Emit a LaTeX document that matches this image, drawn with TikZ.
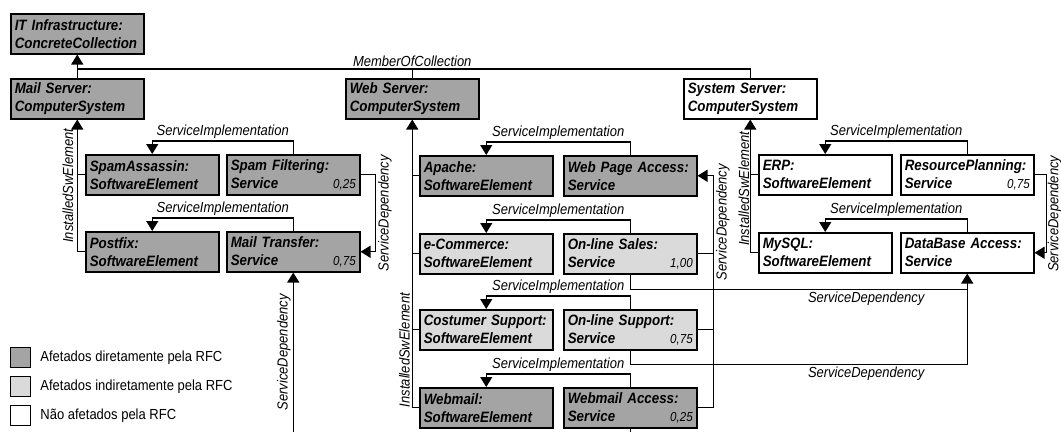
\documentclass[tikz,border=0pt]{standalone}
\usepackage{fontspec}
\setmainfont{Liberation Sans}[FakeStretch=0.89]
\usetikzlibrary{arrows.meta}
\definecolor{cinzaesc}{HTML}{A4A4A4}
\definecolor{cinzacla}{HTML}{DADADA}
\tikzset{
  caixa/.style={draw, line width=1.5pt, anchor=north west, text width=125pt, inner xsep=4pt, inner ysep=0pt,
    minimum height=40pt, align=left, font=\fontsize{15}{18}\selectfont\bfseries\itshape},
  direto/.style={caixa, fill=cinzaesc},
  indireto/.style={caixa, fill=cinzacla},
  naoafet/.style={caixa, fill=white},
  rot/.style={font=\fontsize{14.6}{16}\selectfont\itshape},
  liga/.style={line width=1.2pt},
  quadro/.style={draw, line width=1.2pt, minimum size=20pt, anchor=north west, inner sep=0pt},
  legenda/.style={anchor=west, font=\fontsize{14.6}{16}\selectfont, inner sep=0pt}
}
\newcommand{\peso}[1]{\hfill{\mdseries\fontsize{13}{18}\selectfont #1}}
\begin{document}
\begin{tikzpicture}[x=1pt, y=-1pt, >={Triangle[width=12pt,length=10pt]}]
  \useasboundingbox (0,0) rectangle (1061,432);
  \coordinate (bot) at (0,432);
  % colecao e servidores
  \node[direto] (itinfra) at (10,13) {IT Infrastructure:\\ConcreteCollection};
  \node[direto] (mailsrv) at (10,78) {Mail Server:\\ComputerSystem};
  \node[direto] (websrv) at (345,78) {Web Server:\\ComputerSystem};
  \node[naoafet] (syssrv) at (683,78) {System Server:\\ComputerSystem};
  % mail
  \node[direto] (spamassassin) at (85,154) {SpamAssassin:\\SoftwareElement};
  \node[direto] (spamfilter) at (226,154) {Spam Filtering:\\Service\peso{0,25}};
  \node[direto] (postfix) at (85,231) {Postfix:\\SoftwareElement};
  \node[direto] (mailtransfer) at (226,231) {Mail Transfer:\\Service\peso{0,75}};
  % web
  \node[direto] (apache) at (419,155) {Apache:\\SoftwareElement};
  \node[direto] (webpage) at (563,155) {Web Page Access:\\Service};
  \node[indireto] (ecommerce) at (419,233) {e-Commerce:\\SoftwareElement};
  \node[indireto] (sales) at (563,233) {On-line Sales:\\Service\peso{1,00}};
  \node[indireto] (custsupport) at (419,309) {Costumer Support:\\SoftwareElement};
  \node[indireto] (support) at (563,309) {On-line Support:\\Service\peso{0,75}};
  \node[direto] (webmail) at (419,387) {Webmail:\\SoftwareElement};
  \node[direto] (webmailacc) at (563,387) {Webmail Access:\\Service\peso{0,25}};
  % system
  \node[naoafet] (erp) at (758,154) {ERP:\\SoftwareElement};
  \node[naoafet] (resplan) at (900,154) {ResourcePlanning:\\Service\peso{0,75}};
  \node[naoafet] (mysql) at (758,232) {MySQL:\\SoftwareElement};
  \node[naoafet] (dbaccess) at (900,232) {DataBase Access:\\Service};

  % MemberOfCollection
  \coordinate (moc) at (77,69);
  \draw[liga,->] (mailsrv.north) -- (itinfra.south);
  \draw[liga] (moc) -| (websrv.north);
  \draw[liga] (moc) -| (syssrv.north);
  \node[rot, above, inner sep=2pt] at (moc -| websrv.north) {MemberOfCollection};

  % mail server
  \draw[liga,->] (postfix.west) -| node[rot, rotate=90, anchor=south, pos=0.75] {InstalledSwElement} (mailsrv.south);
  \draw[liga] (spamassassin.west) -- (spamassassin.west -| mailsrv.south);
  \draw[liga,->] (spamfilter.north) -- ++(0,-13) -| node[rot, above, inner sep=2pt, pos=0.25] {ServiceImplementation} (spamassassin.north);
  \draw[liga,->] (mailtransfer.north) -- ++(0,-13) -| node[rot, above, inner sep=2pt, pos=0.25] {ServiceImplementation} (postfix.north);
  \draw[liga,->] (spamfilter.east) -- ++(15,0) |- node[rot, rotate=90, anchor=north, inner sep=2pt, pos=0.25] {ServiceDependency} (mailtransfer.east);
  \draw[liga,->] (mailtransfer.south |- bot) -- node[rot, rotate=90, anchor=south, inner sep=2pt] {ServiceDependency} (mailtransfer.south);

  % web server
  \draw[liga,->] (webmail.west) -| node[rot, rotate=90, anchor=south, inner sep=2pt, pos=0.6] {InstalledSwElement} (websrv.south);
  \draw[liga] (apache.west) -- (apache.west -| websrv.south);
  \draw[liga] (ecommerce.west) -- (ecommerce.west -| websrv.south);
  \draw[liga] (custsupport.west) -- (custsupport.west -| websrv.south);
  \draw[liga,->] (webpage.north) -- ++(0,-13) -| node[rot, above, inner sep=2pt, pos=0.25] {ServiceImplementation} (apache.north);
  \draw[liga,->] (sales.north) -- ++(0,-13) -| node[rot, above, inner sep=2pt, pos=0.25] {ServiceImplementation} (ecommerce.north);
  \draw[liga,->] (support.north) -- ++(0,-13) -| node[rot, above, inner sep=2pt, pos=0.25] {ServiceImplementation} (custsupport.north);
  \draw[liga,->] (webmailacc.north) -- ++(0,-13) -| node[rot, above, inner sep=2pt, pos=0.25] {ServiceImplementation} (webmail.north);
  \draw[liga,->] (webmailacc.east) -- ++(16,0) coordinate (wsd) |- node[rot, rotate=90, anchor=north, inner sep=2pt, pos=0.4] {ServiceDependency} (webpage.east);
  \draw[liga] (sales.east) -- (sales.east -| wsd);
  \draw[liga] (support.east) -- (support.east -| wsd);
  \draw[liga,->] (sales.south) -- ++(0,15) coordinate (sda) -| node[rot, below, inner sep=2pt, pos=0.35] {ServiceDependency} (dbaccess.south);
  \draw[liga] (support.south) -- ++(0,14) -| node[rot, below, inner sep=2pt, pos=0.35] {ServiceDependency} (sda -| dbaccess.south);
  \draw[liga] (webmailacc.south) -- (webmailacc.south |- bot);

  % system server
  \draw[liga,->] (mysql.west) -| node[rot, rotate=90, anchor=south, inner sep=0.5pt, pos=0.74] {InstalledSwElement} (syssrv.south);
  \draw[liga] (erp.west) -- (erp.west -| syssrv.south);
  \draw[liga,->] (resplan.north) -- ++(0,-13) -| node[rot, above, inner sep=2pt, pos=0.25] {ServiceImplementation} (erp.north);
  \draw[liga,->] (dbaccess.north) -- ++(0,-13) -| node[rot, above, inner sep=2pt, pos=0.25] {ServiceImplementation} (mysql.north);
  \draw[liga,->] (resplan.east) -- ++(12,0) |- node[rot, rotate=90, anchor=north, inner sep=0.8pt, pos=0.25] {ServiceDependency} (dbaccess.east);

  % legenda
  \node[quadro, fill=cinzaesc] (legdir) at (10,347) {};
  \node[quadro, fill=cinzacla] (legind) at (10,376) {};
  \node[quadro, fill=white] (legnao) at (10,405) {};
  \node[legenda] (txtdir) at ([xshift=9pt]legdir.east) {Afetados diretamente pela RFC};
  \node[legenda] (txtind) at ([xshift=9pt]legind.east) {Afetados indiretamente pela RFC};
  \node[legenda] (txtnao) at ([xshift=9pt]legnao.east) {Não afetados pela RFC};
\end{tikzpicture}
\end{document}
